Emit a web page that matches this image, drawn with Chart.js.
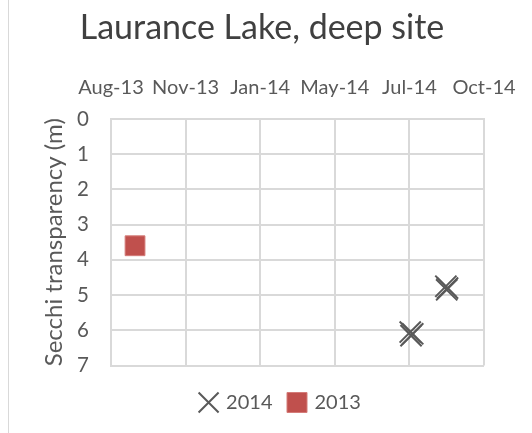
<!DOCTYPE html>
<html>
<head>
<meta charset="utf-8">
<script src="https://cdn.jsdelivr.net/npm/chart.js@4/dist/chart.umd.min.js"></script>
<style>
  html, body { margin: 0; padding: 0; background: #fff; }
  #wrap { position: relative; width: 532px; height: 433px; }
  #wrap::before { content: ''; position: absolute; left: 8px; top: 0; bottom: 0; border-left: 1px solid #d9d9d9; }
</style>
</head>
<body>
<div id="wrap"><canvas id="chart" width="532" height="433"></canvas></div>
<script>
// sample dates and Secchi depths (m)
const dates2014 = ['2014-07-31', '2014-08-01', '2014-08-03', '2014-09-12', '2014-09-13', '2014-09-14'];
const depths2014 = [6.05, 6.15, 6.1, 4.75, 4.85, 4.8];
const dates2013 = ['2013-09-02'];
const depths2013 = [3.6];

// date axis: first day and step (days) of the major unit
const axisStart = '2013-08-04';
const stepDays = 90;
const tickLabels = ['Aug-13', 'Nov-13', 'Jan-14', 'May-14', 'Jul-14', 'Oct-14'];
const depthMax = 7;

const font = 'Lato, "Open Sans", sans-serif';
const grey = '#595959';

const dayNum = s => Date.parse(s) / 86400000;
const xMin = dayNum(axisStart);
const xMax = xMin + stepDays * (tickLabels.length - 1);

const toPoints = (dates, vals) => dates.map((d, i) => ({ x: dayNum(d), y: vals[i] }));

// legend sits a bit lower and further right than chart.js puts it
const nudgeLegend = {
    id: 'nudgeLegend',
    afterLayout(chart) {
        const lg = chart.legend;
        lg.left += 19; lg.right += 19;
        lg.top += 10; lg.bottom += 10;
    }
};

new Chart(document.getElementById('chart'), {
    type: 'scatter',
    data: {
        datasets: [
            {
                label: '2014',
                data: toPoints(dates2014, depths2014),
                pointStyle: 'crossRot',
                pointRadius: 15,
                pointHoverRadius: 15,
                borderColor: grey,
                backgroundColor: grey,
                borderWidth: 2
            },
            {
                label: '2013',
                data: toPoints(dates2013, depths2013),
                pointStyle: 'rect',
                pointRadius: 14,
                pointHoverRadius: 14,
                backgroundColor: '#c0504d',
                borderColor: '#d47c79',
                borderWidth: 1
            }
        ]
    },
    plugins: [nudgeLegend],
    options: {
        responsive: false,
        animation: false,
        layout: { padding: { left: 40, right: 48, top: 0, bottom: 20.5 } },
        plugins: {
            title: {
                display: true,
                text: 'Laurance Lake, deep site',
                color: '#404040',
                font: { family: font, size: 34, weight: 'normal' },
                padding: { top: 8, bottom: 4 }
            },
            legend: {
                position: 'bottom',
                labels: {
                    usePointStyle: true,
                    color: grey,
                    font: { family: font, size: 20 },
                    boxWidth: 15,
                    padding: 17
                }
            },
            tooltip: { enabled: false }
        },
        scales: {
            x: {
                type: 'linear',
                position: 'top',
                min: xMin,
                max: xMax,
                afterBuildTicks: scale => {
                    scale.ticks = tickLabels.map((_, i) => ({ value: xMin + i * stepDays }));
                },
                afterFit: scale => {
                    scale.height = 66.2;
                    scale.paddingLeft = 0;
                    scale.paddingRight = 0;
                },
                ticks: {
                    autoSkip: false,
                    maxRotation: 0,
                    color: grey,
                    font: { family: font, size: 20 },
                    padding: 19,
                    callback: (v, i) => tickLabels[i]
                },
                grid: { color: '#d9d9d9', lineWidth: 2, drawTicks: false },
                border: { color: '#d9d9d9', width: 2 }
            },
            y: {
                reverse: true,
                min: 0,
                max: depthMax,
                afterFit: scale => { scale.width = 71; },
                ticks: {
                    stepSize: 1,
                    color: grey,
                    font: { family: font, size: 20.5 },
                    padding: 22
                },
                grid: { color: '#d9d9d9', lineWidth: 2, drawTicks: false },
                border: { color: '#d9d9d9', width: 2 },
                title: {
                    display: true,
                    text: 'Secchi transparency (m)',
                    color: grey,
                    font: { family: font, size: 24 },
                    padding: { top: 0, bottom: 0 }
                }
            }
        }
    }
});
</script>
</body>
</html>
